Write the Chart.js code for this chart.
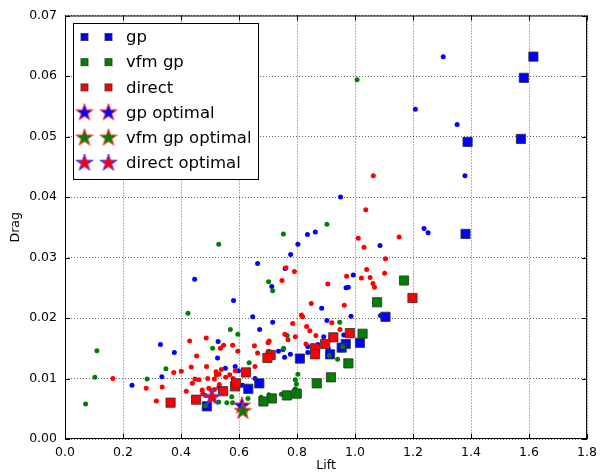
<!DOCTYPE html>
<html>
<head>
<meta charset="utf-8">
<script src="https://cdn.jsdelivr.net/npm/chart.js@4"></script>
<style>
  body { margin: 0; background: #fff; }
</style>
</head>
<body>
<canvas id="dragChart" width="603" height="474"></canvas>
<script>
// [lift, drag] pairs
const gpSamples = [
  [1.304, 0.0632], [1.208, 0.0545], [1.352, 0.0520], [1.379, 0.0435], [0.950, 0.0400],
  [0.836, 0.0338], [0.863, 0.0342], [0.803, 0.0322], [1.238, 0.0348], [1.252, 0.0341],
  [1.086, 0.0320], [0.778, 0.0305], [0.664, 0.0290], [0.759, 0.0282], [0.713, 0.0252],
  [0.447, 0.0264], [0.581, 0.0229], [0.994, 0.0271], [0.977, 0.0251], [0.969, 0.0250],
  [0.885, 0.0216], [0.647, 0.0202], [0.716, 0.0193], [0.671, 0.0181], [0.903, 0.0196],
  [0.961, 0.0172], [0.892, 0.0169], [1.088, 0.0204], [0.986, 0.0203], [0.528, 0.0161],
  [0.329, 0.0156], [0.377, 0.0143], [0.526, 0.0134], [0.553, 0.0117], [0.587, 0.0120],
  [0.598, 0.0113], [0.334, 0.0103], [0.231, 0.0089], [0.612, 0.0089], [0.655, 0.0100],
  [0.736, 0.0145], [0.752, 0.0148], [0.777, 0.0140], [0.757, 0.0135], [0.837, 0.0153],
  [0.837, 0.0143], [0.872, 0.0156], [0.908, 0.0149]
];
const vfmSamples = [
  [1.007, 0.0594], [0.903, 0.0355], [0.530, 0.0322], [0.753, 0.0339], [0.702, 0.0260],
  [0.716, 0.0245], [0.424, 0.0208], [0.570, 0.0181], [0.596, 0.0173], [0.509, 0.0150],
  [0.110, 0.0146], [0.348, 0.0116], [0.635, 0.0126], [0.103, 0.0102], [0.283, 0.0099],
  [0.071, 0.0058], [0.575, 0.0070], [0.631, 0.0067], [0.558, 0.0060], [0.578, 0.0060],
  [0.530, 0.0061], [0.484, 0.0055], [0.947, 0.0193], [0.766, 0.0171], [0.754, 0.0150],
  [0.911, 0.0138], [0.940, 0.0132], [0.803, 0.0107], [0.794, 0.0098], [0.798, 0.0091],
  [0.794, 0.0083], [0.703, 0.0073], [0.746, 0.0074], [0.957, 0.0153], [0.676, 0.0069]
];
const directSamples = [
  [1.063, 0.0435], [1.037, 0.0379], [1.011, 0.0332], [1.031, 0.0317], [1.152, 0.0334],
  [1.105, 0.0298], [1.040, 0.0280], [1.102, 0.0274], [1.052, 0.0267], [1.022, 0.0266],
  [1.062, 0.0257], [1.067, 0.0251], [0.971, 0.0269], [0.906, 0.0256], [0.791, 0.0277],
  [0.762, 0.0283], [0.748, 0.0262], [0.849, 0.0224], [0.963, 0.0221], [0.815, 0.0205],
  [0.819, 0.0202], [0.785, 0.0191], [0.920, 0.0192], [0.833, 0.0186], [0.844, 0.0179],
  [0.758, 0.0173], [0.769, 0.0164], [0.794, 0.0169], [0.865, 0.0171], [0.704, 0.0162],
  [0.700, 0.0159], [0.653, 0.0154], [0.664, 0.0142], [0.703, 0.0145], [0.831, 0.0157],
  [0.948, 0.0181], [0.430, 0.0162], [0.487, 0.0167], [0.547, 0.0155], [0.536, 0.0150],
  [0.578, 0.0155], [0.596, 0.0145], [0.454, 0.0137], [0.375, 0.0110], [0.401, 0.0112],
  [0.435, 0.0119], [0.488, 0.0120], [0.521, 0.0111], [0.539, 0.0115], [0.587, 0.0113],
  [0.655, 0.0120], [0.568, 0.0106], [0.554, 0.0102], [0.580, 0.0100], [0.165, 0.0100],
  [0.280, 0.0084], [0.335, 0.0086], [0.315, 0.0063], [0.418, 0.0079], [0.439, 0.0092],
  [0.448, 0.0099], [0.462, 0.0098], [0.492, 0.0100], [0.515, 0.0099], [0.522, 0.0106],
  [0.531, 0.0107], [0.473, 0.0081], [0.496, 0.0084], [0.505, 0.0080], [0.515, 0.0082],
  [0.530, 0.0085], [0.475, 0.0075], [0.484, 0.0072], [0.532, 0.0090]
];

// best point of each run
const gpBest = [
  [1.615, 0.0632], [1.582, 0.0597], [1.572, 0.0496], [1.388, 0.0491], [1.381, 0.0339],
  [1.105, 0.0202], [1.017, 0.0159], [0.968, 0.0157], [0.954, 0.0151], [0.914, 0.0140],
  [0.810, 0.0133], [0.670, 0.0092], [0.632, 0.0083], [0.489, 0.0054]
];
const vfmBest = [
  [1.169, 0.0262], [1.076, 0.0226], [1.026, 0.0174], [0.977, 0.0125], [0.917, 0.0102],
  [0.868, 0.0092], [0.799, 0.0075], [0.765, 0.0072], [0.713, 0.0067], [0.684, 0.0062]
];
const directBest = [
  [1.198, 0.0233], [0.982, 0.0175], [0.925, 0.0168], [0.897, 0.0157], [0.862, 0.0150],
  [0.862, 0.0140], [0.709, 0.0139], [0.698, 0.0134], [0.624, 0.0110], [0.586, 0.0087],
  [0.590, 0.0092], [0.545, 0.0079], [0.452, 0.0065], [0.364, 0.0060]
];

const gpOptimal = [[0.610, 0.0055]];
const vfmOptimal = [[0.613, 0.0046]];
const directOptimal = [[0.507, 0.0069]];

const liftTicks = ['0.0', '0.2', '0.4', '0.6', '0.8', '1.0', '1.2', '1.4', '1.6', '1.8'];
const dragTicks = ['0.00', '0.01', '0.02', '0.03', '0.04', '0.05', '0.06', '0.07'];

const FONT = 'DejaVu Sans';
const toPts = arr => arr.map(([x, y]) => ({x, y}));

function makeStar(fill, edge) {
  const c = document.createElement('canvas');
  c.width = 22; c.height = 22;
  const g = c.getContext('2d');
  g.beginPath();
  for (let i = 0; i < 10; i++) {
    const r = i % 2 ? 3.5 : 9;
    const a = -Math.PI / 2 + i * Math.PI / 5;
    const px = 11 + r * Math.cos(a), py = 11 + r * Math.sin(a);
    if (i) g.lineTo(px, py); else g.moveTo(px, py);
  }
  g.closePath();
  g.fillStyle = fill;
  g.fill();
  g.strokeStyle = edge;
  g.lineWidth = 1;
  g.stroke();
  return c;
}

const starGp = makeStar('#0000ff', '#ff3030');
const starVfm = makeStar('#008000', '#ff3030');
const starDirect = makeStar('#ff0000', '#4040ff');

function dots(data, color, order) {
  return {data: toPts(data), pointStyle: 'circle', pointRadius: 2.5, backgroundColor: color,
          borderColor: color, borderWidth: 0, order: order};
}
function squares(label, data, color, order) {
  return {label: label, data: toPts(data), pointStyle: 'rect', pointRadius: 6.5, backgroundColor: color,
          borderColor: 'rgba(50,50,50,0.85)', borderWidth: 1, order: order};
}
function star(label, data, img, order) {
  return {label: label, data: toPts(data), pointStyle: img, order: order};
}

// legend with two markers per row, drawn in the upper left corner
const legendRows = [
  {label: 'gp', color: '#0000ff'},
  {label: 'vfm gp', color: '#008000'},
  {label: 'direct', color: '#ff0000'},
  {label: 'gp optimal', img: starGp},
  {label: 'vfm gp optimal', img: starVfm},
  {label: 'direct optimal', img: starDirect}
];

const framePlugin = {
  id: 'frame',
  afterDatasetsDraw(chart) {
    const {ctx, chartArea: a, scales} = chart;
    ctx.save();
    ctx.strokeStyle = '#000';
    ctx.lineWidth = 1;
    ctx.strokeRect(a.left + 0.5, a.top + 0.5, a.right - a.left - 1, a.bottom - a.top - 1);
    ctx.beginPath();
    scales.x.ticks.forEach(t => {
      const px = Math.round(scales.x.getPixelForValue(t.value)) + 0.5;
      ctx.moveTo(px, a.bottom); ctx.lineTo(px, a.bottom - 5);
      ctx.moveTo(px, a.top); ctx.lineTo(px, a.top + 5);
    });
    scales.y.ticks.forEach(t => {
      const py = Math.round(scales.y.getPixelForValue(t.value)) + 0.5;
      ctx.moveTo(a.left, py); ctx.lineTo(a.left + 5, py);
      ctx.moveTo(a.right, py); ctx.lineTo(a.right - 5, py);
    });
    ctx.stroke();
    ctx.restore();
  },
  afterDraw(chart) {
    const ctx = chart.ctx;
    const box = {x: 73, y: 23, w: 185, h: 156};
    ctx.save();
    ctx.fillStyle = '#fff';
    ctx.fillRect(box.x, box.y, box.w, box.h);
    ctx.strokeStyle = '#000';
    ctx.lineWidth = 1;
    ctx.strokeRect(box.x + 0.5, box.y + 0.5, box.w, box.h);
    ctx.font = '16.5px "' + FONT + '"';
    ctx.textBaseline = 'middle';
    ctx.fillStyle = '#000';
    legendRows.forEach((row, i) => {
      const cy = 37 + i * 25.2;
      [84.5, 108.5].forEach(cx => {
        if (row.img) {
          ctx.drawImage(row.img, cx - 11, cy - 11);
        } else {
          ctx.fillStyle = row.color;
          ctx.fillRect(cx - 3.5, cy - 3.5, 7, 7);
          ctx.strokeStyle = 'rgba(50,50,50,0.85)';
          ctx.strokeRect(cx - 3.5, cy - 3.5, 7, 7);
        }
      });
      ctx.fillStyle = '#000';
      ctx.fillText(row.label, 126, cy + 1);
    });
    ctx.restore();
  }
};

new Chart(document.getElementById('dragChart'), {
  type: 'scatter',
  data: {
    datasets: [
      star('direct optimal', directOptimal, starDirect, 0),
      star('vfm gp optimal', vfmOptimal, starVfm, 1),
      star('gp optimal', gpOptimal, starGp, 2),
      squares('direct', directBest, '#ff0000', 3),
      dots(directSamples, '#ff0000', 4),
      squares('vfm gp', vfmBest, '#008000', 5),
      dots(vfmSamples, '#008000', 6),
      squares('gp', gpBest, '#0000ff', 7),
      dots(gpSamples, '#0000ff', 8)
    ]
  },
  options: {
    responsive: false,
    animation: false,
    events: [],
    layout: {padding: {left: 0, top: 12, right: 11, bottom: 0}},
    plugins: {legend: {display: false}, tooltip: {enabled: false}},
    scales: {
      x: {
        type: 'linear', min: 0, max: 1.8,
        afterFit: s => { s.height = 35; },
        border: {display: false, dash: [1, 2]},
        grid: {color: 'rgba(0,0,0,0.6)', drawTicks: false},
        ticks: {stepSize: 0.2, padding: 6, color: '#000', font: {family: FONT, size: 12.5},
                callback: (v, i) => liftTicks[i]},
        title: {display: true, text: 'Lift', color: '#000', font: {family: FONT, size: 12.5},
                padding: {top: 0, bottom: 1}}
      },
      y: {
        type: 'linear', min: 0, max: 0.07,
        afterFit: s => { s.width = 65; },
        border: {display: false, dash: [1, 2]},
        grid: {color: 'rgba(0,0,0,0.6)', drawTicks: false},
        ticks: {stepSize: 0.01, padding: 8, color: '#000', font: {family: FONT, size: 12.5},
                callback: (v, i) => dragTicks[i]},
        title: {display: true, text: 'Drag', color: '#000', font: {family: FONT, size: 12.5},
                padding: {top: 8, bottom: 0}}
      }
    }
  },
  plugins: [framePlugin]
});
</script>
</body>
</html>
